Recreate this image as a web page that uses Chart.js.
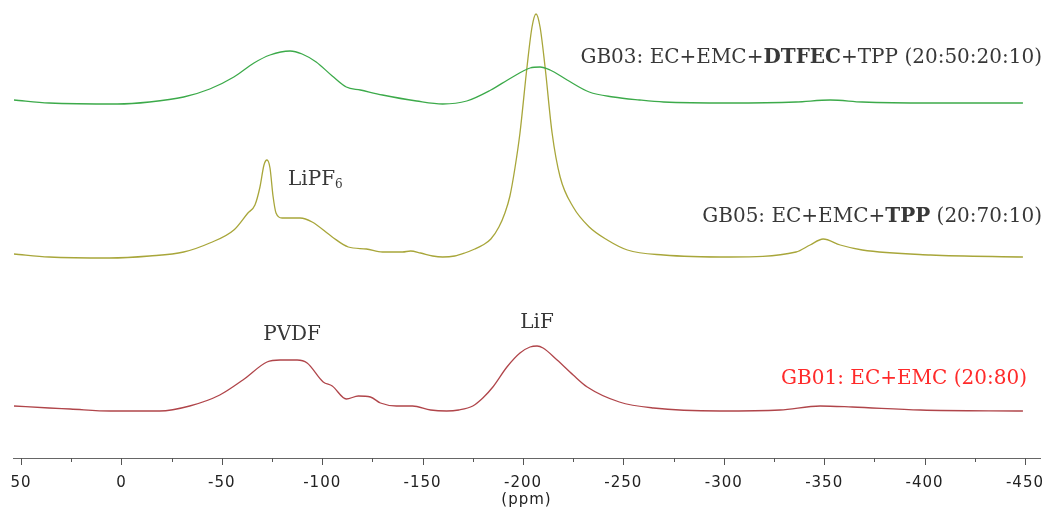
<!DOCTYPE html>
<html lang="en">
<head>
  <meta charset="UTF-8">
  <title>19F NMR spectra</title>
  <style>
    html, body { margin: 0; padding: 0; background: #fff; }
    #wrap { width: 1053px; height: 509px; }
  </style>
</head>
<body>
  <div id="wrap">
    <canvas id="nmrChart" width="1053" height="509"></canvas>
  </div>

  <script src="https://cdn.jsdelivr.net/npm/chart.js"></script>
  <script>
    // chemical shift (ppm) and stacked intensity for each electrolyte
    const gb03Ppm = [53.5, 36, 2, -14, -31, -44, -56, -66, -74, -84, -90, -97, -105, -112, -119, -130, -147, -160, -172, -184, -194, -203.5, -208.5, -213.5, -222, -233, -245, -258, -270, -303, -336, -353, -369, -403, -449];
    const gb03Int = [358, 355, 354, 356, 361, 369, 381, 395, 403, 407, 404, 396, 382, 371, 368, 363, 357, 354, 357, 368, 380, 390, 391, 388, 378, 366, 361, 358, 356, 355, 356, 358, 356, 355, 355];

    const gb05Ppm = [53.5, 36, 6, -14, -31, -44, -56, -63, -66.5, -69, -71, -72.5, -74, -75.5, -77, -80, -89, -95, -105, -113, -122, -130, -140, -144, -149, -155, -160, -166, -171, -176, -180, -184, -188, -191, -193.5, -196, -198.5, -202, -204.5, -206.5, -208.5, -211, -214.5, -218.5, -225, -233, -242, -252, -270, -303, -336, -343, -349.5, -358, -369, -403, -449];
    const gb05Int = [204, 201, 200, 202, 206, 215, 228, 245, 253, 271, 293, 298, 290, 262, 245, 240, 240, 236, 221, 211, 209, 206, 206, 207, 205, 202, 201, 202, 205, 209, 213, 219, 231, 245, 262, 290, 325, 391, 431, 444, 431, 391, 325, 281, 251, 231, 218, 208, 203, 201, 206, 213, 219, 213, 208, 203, 201];

    const gb01Ppm = [53.5, 36, 25.5, 5.5, -19, -34, -49, -60.5, -72.5, -79, -87.5, -92.5, -100.5, -105, -112, -118, -124, -129, -137, -145, -154, -162, -168, -175, -180, -185, -192, -198.5, -203.5, -207, -210, -217, -225, -232, -248, -265, -298, -328, -348, -364, -398, -449];
    const gb01Int = [52, 50, 49, 47, 47, 52, 63, 78, 96, 98, 98, 95, 76, 72, 59, 62, 61, 55, 52, 52, 48, 47, 48, 52, 60, 71, 91, 105, 111, 112, 110, 98, 83, 71, 56, 50, 47, 48, 52, 51, 48, 47];

    // axis ticks: labelled every 50 ppm, minor marks in between
    const tickValues = [50, 25, 0, -25, -50, -75, -100, -125, -150, -175, -200, -225, -250, -275, -300, -325, -350, -375, -400, -425, -450];

    function toPoints(xs, ys) {
      return xs.map((x, i) => ({ x: x, y: ys[i] }));
    }

    // text placed on the spectrum, anchored in ppm / intensity units
    const notes = [
      { x: -458.5, y: 400, align: 'right', parts: [['GB03: EC+EMC+', false], ['DTFEC', true], ['+TPP (20:50:20:10)', false]], color: '#383838' },
      { x: -458.5, y: 241, align: 'right', parts: [['GB05: EC+EMC+', false], ['TPP', true], [' (20:70:10)', false]], color: '#383838' },
      { x: -451, y: 79, align: 'right', parts: [['GB01: EC+EMC (20:80)', false]], color: '#ff2a2a' },
      { x: -85, y: 123, align: 'center', parts: [['PVDF', false]], color: '#383838' },
      { x: -207, y: 135, align: 'center', parts: [['LiF', false]], color: '#383838' }
    ];
    const serif = '"DejaVu Serif", "Liberation Serif", serif';
    const noteSize = 20;

    const notesPlugin = {
      id: 'notes',
      beforeDraw(chart) {
        // axis numbers are set a little wider apart
        chart.ctx.letterSpacing = '1px';
      },
      beforeDatasetsDraw(chart) {
        chart.ctx.letterSpacing = '0px';
      },
      afterDatasetsDraw(chart) {
        const { ctx, scales } = chart;
        ctx.save();
        ctx.letterSpacing = '0px';
        ctx.textBaseline = 'middle';
        notes.forEach(n => {
          const px = scales.x.getPixelForValue(n.x);
          const py = scales.y.getPixelForValue(n.y);
          let total = 0;
          n.parts.forEach(p => {
            ctx.font = (p[1] ? 'bold ' : '') + noteSize + 'px ' + serif;
            total += ctx.measureText(p[0]).width;
          });
          let cx = n.align === 'right' ? px - total : (n.align === 'center' ? px - total / 2 : px);
          ctx.fillStyle = n.color;
          ctx.textAlign = 'left';
          n.parts.forEach(p => {
            ctx.font = (p[1] ? 'bold ' : '') + noteSize + 'px ' + serif;
            ctx.fillText(p[0], cx, py);
            cx += ctx.measureText(p[0]).width;
          });
        });

        // LiPF6 with subscript
        const lx = scales.x.getPixelForValue(-83);
        const ly = scales.y.getPixelForValue(278);
        ctx.fillStyle = '#383838';
        ctx.font = noteSize + 'px ' + serif;
        ctx.fillText('LiPF', lx, ly);
        const w = ctx.measureText('LiPF').width;
        ctx.font = '12px ' + serif;
        ctx.fillText('6', lx + w, ly + 5);
        ctx.restore();
      }
    };

    // short/long tick marks below the axis line
    const tickMarks = {
      id: 'tickMarks',
      afterDraw(chart) {
        const { ctx, scales } = chart;
        const sx = scales.x;
        ctx.save();
        ctx.strokeStyle = '#555';
        ctx.lineWidth = 1;
        tickValues.forEach(v => {
          const x = Math.round(sx.getPixelForValue(v)) + 0.5;
          const len = v % 50 === 0 ? 7 : 4;
          ctx.beginPath();
          ctx.moveTo(x, sx.top);
          ctx.lineTo(x, sx.top + len);
          ctx.stroke();
        });
        ctx.restore();
      }
    };

    const ctx = document.getElementById('nmrChart').getContext('2d');
    new Chart(ctx, {
      type: 'line',
      data: {
        datasets: [
          { label: 'GB03', data: toPoints(gb03Ppm, gb03Int), borderColor: '#3caa4a' },
          { label: 'GB05', data: toPoints(gb05Ppm, gb05Int), borderColor: '#a8a63a' },
          { label: 'GB01', data: toPoints(gb01Ppm, gb01Int), borderColor: '#b0454a' }
        ]
      },
      options: {
        responsive: false,
        animation: false,
        layout: { padding: { left: 13, right: 13, top: 0, bottom: 0 } },
        elements: {
          point: { radius: 0 },
          line: { borderWidth: 1.3, cubicInterpolationMode: 'monotone', fill: false }
        },
        plugins: {
          legend: { display: false },
          tooltip: { enabled: false }
        },
        scales: {
          x: {
            type: 'linear',
            reverse: true,
            min: -457.5,
            max: 54,
            afterBuildTicks(scale) {
              scale.ticks = tickValues.map(v => ({ value: v }));
            },
            afterFit(scale) {
              scale.height = 51;
              scale.paddingLeft = 0;
              scale.paddingRight = 0;
            },
            border: { display: true, color: '#666', width: 1 },
            grid: { display: true, drawOnChartArea: false, drawTicks: false },
            ticks: {
              autoSkip: false,
              maxRotation: 0,
              padding: 16,
              color: '#222',
              font: { family: '"DejaVu Sans", Verdana, sans-serif', size: 15 },
              callback: v => (v % 50 === 0 ? String(v) : '')
            },
            title: {
              display: true,
              text: '(ppm)',
              color: '#222',
              font: { family: '"DejaVu Sans", Verdana, sans-serif', size: 15 },
              padding: { top: 0, bottom: 0 }
            }
          },
          y: {
            display: false,
            min: 0,
            max: 458
          }
        }
      },
      plugins: [notesPlugin, tickMarks]
    });
  </script>
</body>
</html>
